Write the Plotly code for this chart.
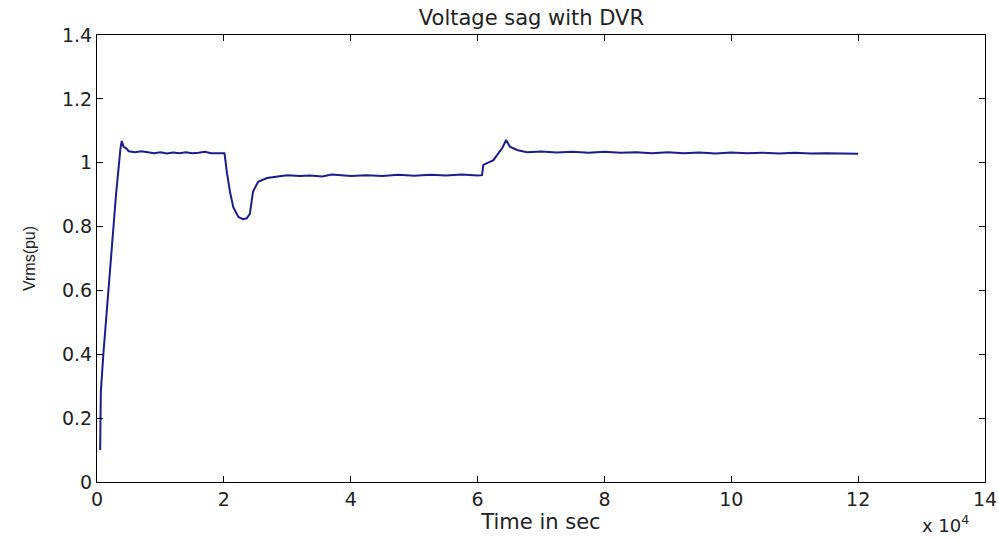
import plotly.graph_objects as go

# time in units of 1e4 s, voltage in pu
time_e4 = [0.05, 0.06, 0.10, 0.20, 0.30, 0.37, 0.39, 0.42, 0.46, 0.50, 0.60, 0.70, 0.80, 0.90,
           1.00, 1.10, 1.20, 1.30, 1.40, 1.50, 1.60, 1.70, 1.80, 1.90, 2.01,
           2.05, 2.10, 2.15, 2.23, 2.30, 2.36, 2.41, 2.46, 2.54, 2.68, 2.85, 3.00,
           3.20, 3.36, 3.55, 3.70, 4.00, 4.25, 4.50, 4.75, 5.00, 5.25, 5.50, 5.75, 6.00, 6.07,
           6.09, 6.15, 6.25, 6.33, 6.39, 6.45, 6.51, 6.62, 6.78,
           7.00, 7.25, 7.50, 7.75, 8.00, 8.25, 8.50, 8.75, 9.00, 9.25, 9.50, 9.75,
           10.00, 10.25, 10.50, 10.75, 11.00, 11.25, 11.50, 11.75, 12.00]
vrms_pu = [0.10, 0.28, 0.40, 0.66, 0.90, 1.045, 1.068, 1.050, 1.045, 1.036, 1.033, 1.036, 1.032, 1.030,
           1.033, 1.029, 1.032, 1.030, 1.033, 1.030, 1.031, 1.034, 1.030, 1.031, 1.030,
           0.967, 0.905, 0.860, 0.830, 0.823, 0.826, 0.840, 0.910, 0.940, 0.952, 0.957, 0.961,
           0.958, 0.960, 0.957, 0.963, 0.958, 0.961, 0.958, 0.962, 0.959, 0.962, 0.960, 0.963, 0.960, 0.961,
           0.993, 0.999, 1.008, 1.030, 1.046, 1.071, 1.050, 1.040, 1.033,
           1.035, 1.032, 1.034, 1.031, 1.034, 1.031, 1.033, 1.030, 1.033, 1.030, 1.032, 1.029,
           1.032, 1.030, 1.031, 1.029, 1.031, 1.029, 1.030, 1.028, 1.028]

x_ticks = [0, 2, 4, 6, 8, 10, 12, 14]
y_ticks = [0, 0.2, 0.4, 0.6, 0.8, 1.0, 1.2, 1.4]
y_tick_labels = ["0", "0.2", "0.4", "0.6", "0.8", "1", "1.2", "1.4"]

fig = go.Figure()
fig.add_trace(go.Scatter(x=time_e4, y=vrms_pu, mode="lines",
                         line=dict(color="#1c1c8a", width=2), showlegend=False))

tick_font = dict(family="DejaVu Sans", size=19, color="#222222")
axis_common = dict(showline=True, linecolor="black", linewidth=1, mirror="ticks",
                   ticks="inside", ticklen=6, tickcolor="black", showgrid=False,
                   zeroline=False, tickfont=tick_font, automargin=False)

fig.update_layout(
    width=999, height=539,
    margin=dict(l=97, r=14, t=35, b=57),
    paper_bgcolor="white", plot_bgcolor="white",
    title=dict(text="Voltage sag with DVR", x=0.532, xanchor="center", y=0.968, yanchor="middle",
               font=dict(family="DejaVu Sans", size=21, color="#222222")),
    xaxis=dict(range=[0, 14], tickvals=x_ticks, ticktext=[str(v) for v in x_ticks],
               title=dict(text="Time in sec", standoff=2,
                          font=dict(family="DejaVu Sans", size=21, color="#222222")),
               **axis_common),
    yaxis=dict(range=[0, 1.4], tickvals=y_ticks, ticktext=y_tick_labels,
               title=dict(text="Vrms(pu)", standoff=22,
                          font=dict(family="Liberation Sans", size=16, color="#222222")),
               **axis_common),
)
fig.add_annotation(text="x 10<sup>4</sup>", xref="paper", yref="paper", x=0.955, y=-0.095,
                   xanchor="center", yanchor="middle", showarrow=False,
                   font=dict(family="DejaVu Sans", size=18, color="#222222"))

fig.write_html("out.html")
